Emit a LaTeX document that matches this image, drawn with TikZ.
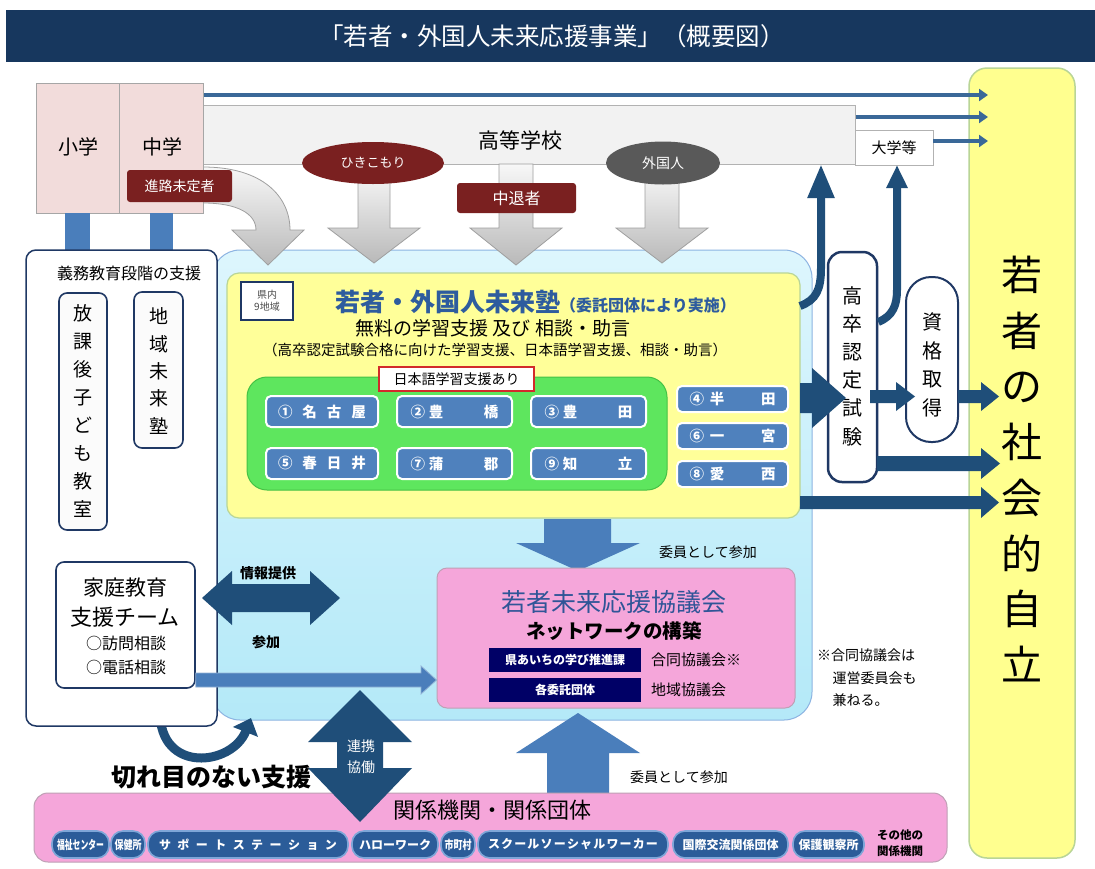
\documentclass[tikz,border=0pt]{standalone}
\usepackage{fontspec}
\usepackage{graphicx}
\setmainfont{Noto Sans CJK JP}
\usetikzlibrary{arrows.meta,shapes.geometric}
\definecolor{titlebg}{HTML}{17375E}
\definecolor{darkred}{HTML}{7A2020}
\definecolor{navyA}{HTML}{1F3864}
\definecolor{navyB}{HTML}{1F4E79}
\definecolor{medblue}{HTML}{4A7EBB}
\definecolor{lineblue}{HTML}{3A6898}
\definecolor{pillblue}{HTML}{4F81BD}
\definecolor{bpillfill}{HTML}{2B5C99}
\definecolor{bpillline}{HTML}{7EA6D8}
\definecolor{titleblue}{HTML}{2E5C9E}
\definecolor{kyogiblue}{HTML}{2F5597}
\definecolor{navybox}{HTML}{000066}
\definecolor{pinkfill}{HTML}{F5A6DA}
\definecolor{pinkline}{HTML}{BFA0B5}
\definecolor{yel}{HTML}{FFFF99}
\definecolor{yelR}{HTML}{FFFF8F}
\definecolor{yelline}{HTML}{B9D596}
\definecolor{grn}{HTML}{5EE65E}
\definecolor{grnline}{HTML}{45C245}
\definecolor{lbtop}{HTML}{DDF6FD}
\definecolor{lbbot}{HTML}{B4E9F8}
\definecolor{lbline}{HTML}{8DB4E2}
\definecolor{schpink}{HTML}{F2DCDB}
\definecolor{hsgray}{HTML}{F2F2F2}
\definecolor{gaigray}{HTML}{595959}
\definecolor{redline}{HTML}{D22B2B}
\newcommand\fs[2]{\fontsize{#1}{#2}\selectfont}
\newsavebox\fitbx
\newcommand\fitw[2]{\sbox\fitbx{#2}\ifdim\wd\fitbx>#1\relax\resizebox{#1}{\height}{\usebox\fitbx}\else\usebox\fitbx\fi}
\newcommand\Rn[6][]{\node[#1,minimum width={(#4)-(#2)},minimum height={(#5)-(#3)}] (#6) at ({((#2)+(#4))/2},{((#3)+(#5))/2})}
\newcommand\garrow[6]{\path[grayarr] ({#1-#3},#2) -- ({#1-#3},#5) -- ({#1-#4},#5) -- (#1,#6) -- ({#1+#4},#5) -- ({#1+#3},#5) -- ({#1+#3},#2) -- cycle;}
\tikzset{
  box/.style={draw=navyA, line width=1.6pt, fill=white, rounded corners=8pt, inner sep=0pt},
  pill/.style={draw=white, line width=2pt, fill=pillblue, rounded corners=5pt, text=white, inner sep=0pt, font=\fs{14.5}{17}\bfseries},
  bpill/.style={draw=bpillline, line width=1.6pt, fill=bpillfill, rounded corners=12pt, text=white, inner sep=0pt, font=\fs{12}{14}\bfseries},
  redlab/.style={fill=darkred, rounded corners=3pt, text=white, inner sep=0pt},
  grayarr/.style={top color=gray!6, bottom color=gray!55, draw=gray!75, line width=0.8pt},
  topline/.style={draw=lineblue, line width=4pt, -{Triangle[length=9pt,width=12pt]}},
  navyline/.style={draw=navyB, line width=8pt},
  plain/.style={inner sep=0pt}
}
\begin{document}
\begin{tikzpicture}[x=1pt,y=-1pt]
\useasboundingbox (0,0) rectangle (1095,868);
\fill[white] (0,0) rectangle (1095,868);

% title
\fill[titlebg] (6,10) rectangle (1095,62);
\node[plain, text=white, font=\fs{24.5}{29}] (title) at (552,36) {「若者・外国人未来応援事業」（概要図）};

% right goal box
\Rn[draw=yelline, line width=1.5pt, fill=yelR, rounded corners=18pt]{969}{68}{1075}{858}{goal} {};
\node[plain, font=\fs{41}{55.7}, align=center] (goaltxt) at (1022,469) {若\\者\\の\\社\\会\\的\\自\\立};

% high school / university
\Rn[draw=gray!60, line width=1pt, fill=hsgray]{203}{105}{855}{164}{hs} {};
\node[plain, font=\fs{21}{25}] (hstxt) at (520,140) {高等学校};
\Rn[draw=gray!60, line width=1pt, fill=white]{855}{130}{933}{165}{univ} {\fs{15}{18}大学等};
\draw[topline] (203,95) -- (988,95);
\draw[topline] (hs.east |- 0,117) -- (988,117);
\draw[topline] (933,141) -- (988,141);

% light blue region
\Rn[draw=lbline, line width=1pt, top color=lbtop, bottom color=lbbot, rounded corners=28pt]{212}{250}{812}{720}{lb} {};

% gray arrows
\garrow{374}{170}{16}{46}{228}{263}
\garrow{516}{164}{17}{46}{228}{265}
\garrow{662}{170}{17}{46}{228}{263}
\path[grayarr] (203,167) .. controls (262,167) and (290,196) .. (290,230) -- (304,230) -- (268,265) -- (232,230) -- (256,230) .. controls (256,214) and (238,203) .. (203,203) -- cycle;

% ellipses and labels
\node[ellipse, fill=darkred, minimum width=142, minimum height=42, inner sep=0pt, text=white, font=\fs{13}{16}] (hiki) at (373,163) {ひきこもり};
\node[ellipse, fill=gaigray, minimum width=114, minimum height=43, inner sep=0pt, text=white, font=\fs{14}{17}] (gai) at (663,163) {外国人};
\Rn[redlab]{457}{183}{576}{213}{chutai} {\fs{16}{19}中退者};

% elementary / junior high
\Rn[draw=gray!70, line width=1pt, fill=schpink]{36}{83}{203}{213}{sch} {};
\draw[gray!70, line width=1pt] (119,83) -- (119,213);
\node[plain, font=\fs{20}{24}] (sho) at (78,147) {小学};
\node[plain, font=\fs{20}{24}] (chu) at (162,147) {中学};
\Rn[redlab]{127}{170}{232}{202}{shinro} {\fs{14}{17}進路未定者};

% connectors school -> compulsory support
\fill[medblue] (65,213) rectangle (90,250);
\fill[medblue] (150,213) rectangle (173,250);

% seamless support curved arrow
\draw[navyline, line width=9pt, -{Triangle[length=15pt,width=26pt]}] (160,712) .. controls (160,774) and (232,766) .. (251,718);

% compulsory education support box
\Rn[box, rounded corners=10pt, line width=1.5pt]{26}{250}{217}{726}{gimu} {};
\node[plain, font=\fs{16}{19}] (gimutxt) at (129,273) {義務教育段階の支援};
\Rn[box, fill=white!97!gray]{59}{293}{107}{530}{houka} {};
\node[plain, font=\fs{19}{27.9}, align=center] (houkatxt) at (83,411) {放\\課\\後\\子\\ど\\も\\教\\室};
\Rn[box, fill=white!97!gray]{134}{292}{183}{448}{chiiki} {};
\node[plain, font=\fs{19}{27.3}, align=center] (chiikitxt) at (158.5,371) {地\\域\\未\\来\\塾};
\Rn[box]{56}{562}{195}{688}{katei} {};
\node[plain, font=\fs{21}{25}] (katei1) at (125,588) {家庭教育};
\node[plain, font=\fs{22}{26}] (katei2) at (125,617) {支援チーム};
\node[plain, font=\fs{16}{19}] (katei3) at (126,643) {○訪問相談};
\node[plain, font=\fs{16}{19}] (katei4) at (126,667) {○電話相談};

% juku yellow box
\Rn[draw=yelline, line width=1.2pt, fill=yel, rounded corners=12pt]{227}{273}{800}{518}{juku} {};
\Rn[draw=navyA, line width=2pt, fill=white]{241}{282}{293}{320}{kennai} {};
\node[plain, font=\fs{10}{12}, align=center, text=gray!60!black] (kennaitxt) at (267,301) {県内\\9地域};
\node[plain, anchor=base west] (jukutitle) at (335,311) {\color{titleblue}\fs{25}{30}\bfseries 若者・外国人未来塾\fs{16}{19}（委託団体により実施）};
\node[plain, font=\fs{19}{23}] (muryo) at (493,328) {無料の学習支援 及び 相談・助言};
\node[plain, font=\fs{14.5}{17}] (kousotsu) at (495,350) {（高卒認定試験合格に向けた学習支援、日本語学習支援、相談・助言）};
\Rn[draw=grnline, line width=1pt, fill=grn, rounded corners=20pt]{247}{377}{667}{490}{green} {};
\Rn[draw=redline, line width=1.8pt, fill=white]{379}{367}{534}{391}{nihongo} {\fs{14}{17}日本語学習支援あり};

\Rn[pill]{266}{396}{378}{427}{p1} {\makebox[88pt]{①\hfill 名\hfill 古\hfill 屋}};
\Rn[pill]{397}{396}{512}{427}{p2} {\makebox[88pt]{②\hspace{4pt}豊\hfill 橋}};
\Rn[pill]{531}{396}{646}{427}{p3} {\makebox[88pt]{③\hspace{4pt}豊\hfill 田}};
\Rn[pill]{266}{448}{378}{479}{p5} {\makebox[88pt]{⑤\hfill 春\hfill 日\hfill 井}};
\Rn[pill]{397}{448}{512}{479}{p7} {\makebox[88pt]{⑦\hspace{4pt}蒲\hfill 郡}};
\Rn[pill]{531}{448}{646}{479}{p9} {\makebox[88pt]{⑨\hspace{4pt}知\hfill 立}};
\Rn[pill]{677}{386}{788}{412}{p4} {\makebox[86pt]{④\hspace{6pt}半\hfill 田}};
\Rn[pill]{677}{423}{788}{449}{p6} {\makebox[86pt]{⑥\hspace{6pt}一\hfill 宮}};
\Rn[pill]{677}{461}{788}{487}{p8} {\makebox[86pt]{⑧\hspace{6pt}愛\hfill 西}};

% right side boxes
\Rn[draw=navyA, line width=2.5pt, fill=white, rounded corners=14pt]{828}{252}{877}{482}{kousotsubox} {};
\node[plain, font=\fs{20}{28.2}, align=center] (kousotsutxt) at (852,366) {高\\卒\\認\\定\\試\\験};
\Rn[draw=navyA, line width=2pt, fill=white, rounded corners=25pt]{906}{277}{958}{442}{shikaku} {};
\node[plain, font=\fs{20}{28.5}, align=center] (shikakutxt) at (932,365) {資\\格\\取\\得};

% navy up arrows to high school and university
\draw[navyline, line width=8pt, -{Triangle[length=34pt,width=25pt]}] (800,306) .. controls (816,300) and (821,290) .. (821,268) -- (821,164);
\draw[navyline, line width=8pt, -{Triangle[length=23pt,width=20pt]}] (kousotsubox.east |- 0,322) .. controls (893,316) and (897,305) .. (897,290) -- (897,165);

% navy block arrows on the right
\fill[navyB] (800,383) -- (812,383) -- (812,368) -- (846,398) -- (812,428) -- (812,413) -- (800,413) -- cycle;
\fill[navyB] (870,390) -- (896,390) -- (896,382) -- (915,396.5) -- (896,411) -- (896,403) -- (870,403) -- cycle;
\fill[navyB] (958,390) -- (981,390) -- (981,382) -- (999,396.5) -- (981,411) -- (981,403) -- (958,403) -- cycle;
\fill[navyB] (877,456) -- (981,456) -- (981,448) -- (1000,463.5) -- (981,479) -- (981,471) -- (877,471) -- cycle;
\fill[navyB] (800,496) -- (981,496) -- (981,487) -- (999,502.5) -- (981,518) -- (981,509) -- (800,509) -- cycle;

% down arrow juku -> council
\fill[medblue] (544,519) -- (611,519) -- (611,543) -- (640,543) -- (578,571) -- (516,543) -- (544,543) -- cycle;
\node[plain, font=\fs{14}{17}] (iin1) at (708,552) {委員として参加};

% council pink box
\Rn[draw=pinkline, line width=1pt, fill=pinkfill, rounded corners=10pt]{437}{568}{795}{708}{kyogi} {};
\node[plain, font=\fs{25}{30}, text=kyogiblue] (kyogi1) at (614,602) {若者未来応援協議会};
\node[plain, font=\fs{19.5}{23}\bfseries] (kyogi2) at (614,631) {ネットワークの構築};
\Rn[fill=navybox, text=white, inner sep=0pt, font=\fs{12}{14}\bfseries]{489}{648}{641}{672}{ken} {県あいちの学び推進課};
\Rn[fill=navybox, text=white, inner sep=0pt, font=\fs{12}{14}\bfseries]{489}{678}{641}{702}{kaku} {各委託団体};
\node[plain, anchor=west, font=\fs{15}{18}] (godo) at (651,660) {合同協議会※};
\node[plain, anchor=west, font=\fs{15}{18}] (chiikikyo) at (651,690) {地域協議会};
\node[plain, anchor=north west, align=left, font=\fs{14}{22.5}] (note) at (817,649) {※合同協議会は\\\hspace{1.1em}運営委員会も\\\hspace{1.1em}兼ねる。};

% double arrow info / participation
\fill[navyB] (202,598) -- (232,571) -- (232,584) -- (310,584) -- (310,571) -- (340,598) -- (310,625) -- (310,612) -- (232,612) -- (232,625) -- cycle;
\node[plain, font=\fs{14}{17}\bfseries] (joho) at (268,573) {情報提供};
\node[plain, font=\fs{14}{17}\bfseries] (sanka) at (266,642) {参加};

% katei -> council arrow
\filldraw[fill=medblue, draw=medblue!60!white, line width=0.8pt] (katei.east |- 0,673) -- (421,673) -- (421,666) -- (kyogi.west |- 0,680) -- (421,694) -- (421,687) -- (katei.east |- 0,687) -- cycle;

% bottom up arrow
\fill[medblue] (547,796) -- (547,753) -- (516,753) -- (578,713) -- (640,753) -- (609,753) -- (609,796) -- cycle;
\node[plain, font=\fs{14}{17}] (iin2) at (679,777) {委員として参加};

% related organisations
\Rn[draw=pinkline, line width=1pt, fill=pinkfill, rounded corners=14pt]{34}{793}{947}{862}{kankei} {};
\node[plain, font=\fs{22}{26}] (kankeitxt) at (492,810) {関係機関・関係団体};
\Rn[bpill]{52}{831}{109}{858}{b1} {\fitw{47pt}{福祉センター}};
\Rn[bpill]{111}{831}{145}{858}{b2} {\fitw{27pt}{保健所}};
\Rn[bpill]{148}{831}{348}{858}{b3} {\makebox[178pt]{サ\hfill ポ\hfill ー\hfill ト\hfill ス\hfill テ\hfill ー\hfill シ\hfill ョ\hfill ン}};
\Rn[bpill]{352}{831}{438}{858}{b4} {\makebox[72pt]{ハ\hfill ロ\hfill ー\hfill ワ\hfill ー\hfill ク}};
\Rn[bpill]{441}{831}{475}{858}{b5} {\fitw{27pt}{市町村}};
\Rn[bpill]{478}{831}{668}{858}{b6} {\makebox[170pt]{ス\hfill ク\hfill ー\hfill ル\hfill ソ\hfill ー\hfill シ\hfill ャ\hfill ル\hfill ワ\hfill ー\hfill カ\hfill ー}};
\Rn[bpill]{673}{831}{788}{858}{b7} {\fitw{102pt}{国際交流関係団体}};
\Rn[bpill]{793}{831}{864}{858}{b8} {\fitw{60pt}{保護観察所}};
\node[plain, font=\fs{11.5}{16}\bfseries, align=center] (sonota) at (900,843) {その他の\\関係機関};

% cooperation double arrow
\fill[navyB] (360,690) -- (412,742) -- (383,742) -- (383,768) -- (412,768) -- (360,822) -- (308,768) -- (337,768) -- (337,742) -- (308,742) -- cycle;
\node[plain, font=\fs{14}{21}, align=center, text=white] (renkei) at (361,757) {連携\\協働};

\node[plain, font=\fs{25}{30}\bfseries] (kireme) at (211,777) {切れ目のない支援};
\end{tikzpicture}
\end{document}
